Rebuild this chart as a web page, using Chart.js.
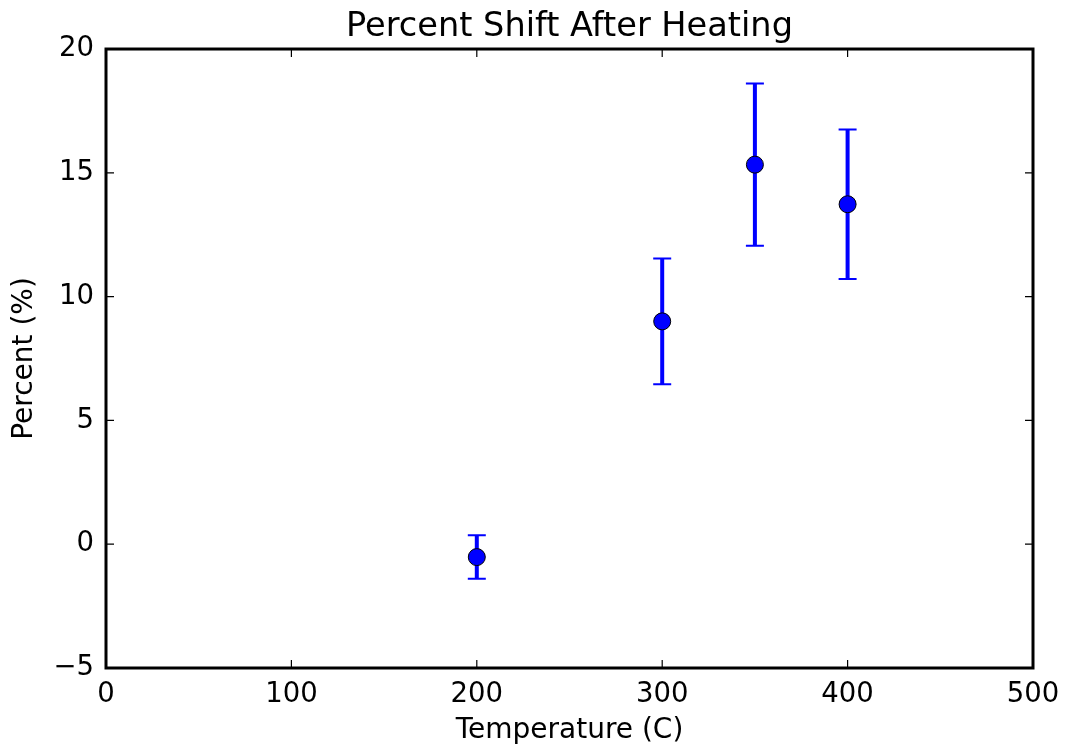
<!DOCTYPE html>
<html>
<head>
<meta charset="utf-8">
<script src="https://cdn.jsdelivr.net/npm/chart.js@4"></script>
<style>
html,body{margin:0;padding:0;background:#fff;}
#wrap{width:1065px;height:750px;}
</style>
</head>
<body>
<div id="wrap"><canvas id="c" width="1065" height="750"></canvas></div>
<script>
const temperatures = [200, 300, 350, 400];
const percentShift = [-0.52, 9.0, 15.33, 13.73];
const percentError = [0.88, 2.54, 3.28, 3.02];
const xTicks = [0, 100, 200, 300, 400, 500];
const yTicks = [-5, 0, 5, 10, 15, 20];

const FONT = '"DejaVu Sans", sans-serif';

const points = temperatures.map((t, i) => ({x: t, y: percentShift[i]}));

const errorBarPlugin = {
  id: 'errorBars',
  beforeDatasetsDraw(chart) {
    const ctx = chart.ctx;
    const xs = chart.scales.x, ys = chart.scales.y;
    ctx.save();
    ctx.strokeStyle = '#0000ff';
    temperatures.forEach((t, i) => {
      const px = xs.getPixelForValue(t);
      const top = ys.getPixelForValue(percentShift[i] + percentError[i]);
      const bot = ys.getPixelForValue(percentShift[i] - percentError[i]);
      ctx.lineWidth = 4;
      ctx.beginPath();
      ctx.moveTo(px, top); ctx.lineTo(px, bot);
      ctx.stroke();
      ctx.lineWidth = 2;
      ctx.beginPath();
      ctx.moveTo(px - 9, top); ctx.lineTo(px + 9, top);
      ctx.moveTo(px - 9, bot); ctx.lineTo(px + 9, bot);
      ctx.stroke();
    });
    ctx.restore();
  }
};

const framePlugin = {
  id: 'frame',
  afterDraw(chart) {
    const ctx = chart.ctx;
    const a = chart.chartArea;
    const xs = chart.scales.x, ys = chart.scales.y;
    ctx.save();
    ctx.strokeStyle = '#000';
    ctx.lineWidth = 1.2;
    const L = 8;
    ctx.beginPath();
    xTicks.forEach(v => {
      const p = xs.getPixelForValue(v);
      ctx.moveTo(p, a.bottom); ctx.lineTo(p, a.bottom - L);
      ctx.moveTo(p, a.top); ctx.lineTo(p, a.top + L);
    });
    yTicks.forEach(v => {
      const p = ys.getPixelForValue(v);
      ctx.moveTo(a.left, p); ctx.lineTo(a.left + L, p);
      ctx.moveTo(a.right, p); ctx.lineTo(a.right - L, p);
    });
    ctx.stroke();
    ctx.lineWidth = 3;
    ctx.strokeRect(a.left, a.top, a.right - a.left, a.bottom - a.top);
    ctx.restore();
  }
};

new Chart(document.getElementById('c'), {
  type: 'scatter',
  data: {
    datasets: [{
      data: points,
      backgroundColor: '#0000ff',
      borderColor: '#000',
      borderWidth: 1,
      pointRadius: 8.5,
      pointHoverRadius: 8.5
    }]
  },
  options: {
    responsive: false,
    animation: false,
    events: [],
    layout: {padding: {left: 0, right: 32, top: 0, bottom: 0}},
    plugins: {
      legend: {display: false},
      tooltip: {enabled: false},
      title: {
        display: true,
        fullSize: false,
        text: 'Percent Shift After Heating',
        color: '#000',
        font: {family: FONT, size: 33.6, weight: 'normal', lineHeight: 1.2},
        padding: {top: 7, bottom: 1.7}
      }
    },
    scales: {
      x: {
        type: 'linear',
        min: 0, max: 500,
        afterBuildTicks(s) { s.ticks = xTicks.map(v => ({value: v})); },
        afterFit(s) { s.height = 82; s.paddingLeft = 0; s.paddingRight = 0; },
        grid: {display: false, drawTicks: false},
        border: {display: false},
        ticks: {
          color: '#000',
          font: {family: FONT, size: 27.5},
          padding: 10,
          maxRotation: 0,
          callback: v => String(v).replace('-', '\u2212')
        },
        title: {
          display: true,
          text: 'Temperature (C)',
          color: '#000',
          font: {family: FONT, size: 28},
          padding: {top: 4, bottom: 2}
        }
      },
      y: {
        type: 'linear',
        min: -5, max: 20,
        afterBuildTicks(s) { s.ticks = yTicks.map(v => ({value: v})); },
        afterFit(s) { s.width = 106; },
        grid: {display: false, drawTicks: false},
        border: {display: false},
        ticks: {
          color: '#000',
          font: {family: FONT, size: 27.5},
          padding: 12,
          callback: v => String(v).replace('-', '\u2212')
        },
        title: {
          display: true,
          text: 'Percent (%)',
          color: '#000',
          font: {family: FONT, size: 28},
          padding: {top: 8, bottom: 4}
        }
      }
    }
  },
  plugins: [errorBarPlugin, framePlugin]
});
</script>
</body>
</html>
